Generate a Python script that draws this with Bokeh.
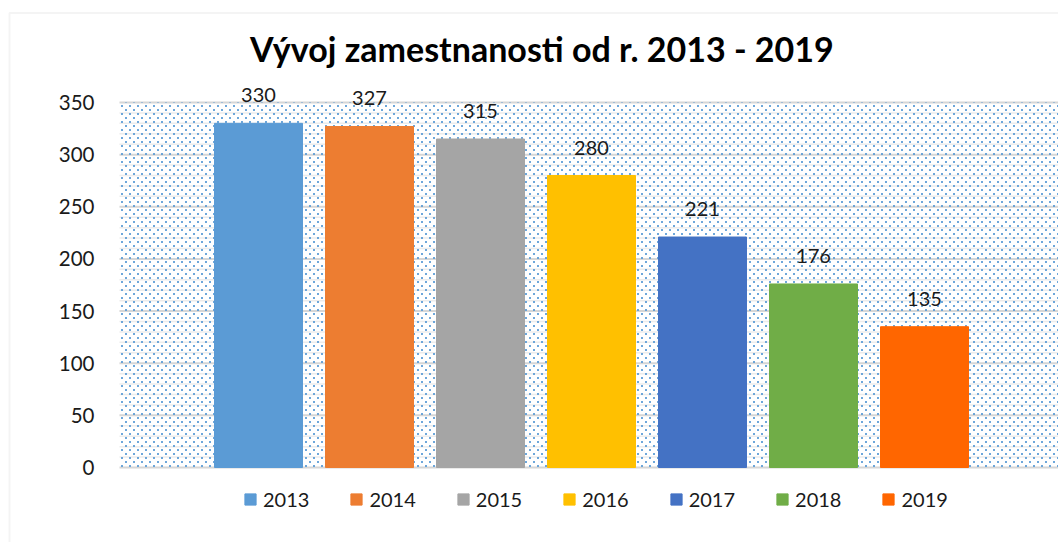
import base64, struct, zlib
from bokeh.plotting import figure
from bokeh.models import (ColumnDataSource, Range1d, FixedTicker, LabelSet, Label,
                          BoxAnnotation, ImageURLTexture)
from bokeh.core.properties import value
from bokeh.embed import file_html
from bokeh.resources import INLINE

years = ["2013", "2014", "2015", "2016", "2017", "2018", "2019"]
values = [330, 327, 315, 280, 221, 176, 135]
colors = ["#5B9BD5", "#ED7D31", "#A5A5A5", "#FFC000", "#4472C4", "#70AD47", "#FF6600"]
y_ticks = [0, 50, 100, 150, 200, 250, 300, 350]
y_minor_ticks = [10, 20, 30, 40, 60, 70, 80, 90, 110, 120, 130, 140, 160, 170, 180, 190,
                 210, 220, 230, 240, 260, 270, 280, 290, 310, 320, 330, 340]
title_text = "Vývoj zamestnanosti od r. 2013  - 2019"

FONT = "Lato"

# ---- dotted pattern tile (8x8 px, staggered dots) as PNG data URL ----
def png_tile():
    w = h = 8
    px = [[(0, 0, 0, 0)] * w for _ in range(h)]
    dot = (91, 155, 213, 225)
    for (cx, cy) in [(1, 1), (5, 5)]:
        for ddx in (0, 1):
            for ddy in (0, 1):
                px[cy + ddy][cx + ddx] = dot
    raw = b"".join(b"\x00" + b"".join(struct.pack("4B", *c) for c in row) for row in px)
    def chunk(t, d):
        c = struct.pack(">I", len(d)) + t + d
        return c + struct.pack(">I", zlib.crc32(t + d) & 0xffffffff)
    data = (b"\x89PNG\r\n\x1a\n" + chunk(b"IHDR", struct.pack(">IIBBBBB", w, h, 8, 6, 0, 0, 0))
            + chunk(b"IDAT", zlib.compress(raw)) + chunk(b"IEND", b""))
    return "data:image/png;base64," + base64.b64encode(data).decode()

# page geometry: frame covers whole canvas; plot area is 119..1058 x 102..467
W, H = 1058, 542
PX_X = 111.0           # px per category
X0 = 258.0             # page x of first bar centre
PLOT_L, PLOT_T, PLOT_B = 119.0, 102.0, 467.0
PX_Y = (PLOT_B - PLOT_T) / 350.0

def dx(px): return (px - X0) / PX_X
def dy(py): return (PLOT_B - py) / PX_Y

src = ColumnDataSource(dict(x=list(range(len(years))), top=values, color=colors,
                            year=years, lbl=[str(v) for v in values]))

p = figure(width=W, height=H, output_backend="svg", toolbar_location=None,
           x_range=Range1d(dx(0), dx(W)), y_range=Range1d(dy(H), dy(0)),
           min_border=0, x_axis_location=None)
p.outline_line_color = None
p.background_fill_color = "white"
p.border_fill_color = "white"
p.xgrid.visible = False
p.ygrid.visible = False

# dotted plot-area background
bg = BoxAnnotation(left=dx(PLOT_L), bottom=0, top=350, fill_alpha=0, line_alpha=0,
                   hatch_pattern="tile", hatch_extra={"tile": ImageURLTexture(url=png_tile())},
                   level="underlay")
p.add_layout(bg)

# faint minor and major horizontal gridlines across plot area
p.segment(x0=dx(PLOT_L), x1=dx(W + 10), y0=y_minor_ticks, y1=y_minor_ticks,
          line_color="#ECECEC", line_width=1.5, level="underlay")
p.segment(x0=dx(PLOT_L), x1=dx(W + 10), y0=y_ticks, y1=y_ticks,
          line_color="#D6D6D6", line_width=2, level="underlay")

p.vbar(x="x", top="top", width=88 / PX_X, color="color", source=src, legend_field="year")

p.add_layout(LabelSet(x="x", y="top", text="lbl", source=src, text_align="center",
                      text_baseline="alphabetic", y_offset=21, text_font=value(FONT),
                      text_font_size=value("20px"), text_color="#1a1a1a"))

p.add_layout(Label(x=dx(545.5), y=dy(48), text=title_text, text_align="center",
                   text_baseline="alphabetic", text_font=FONT, text_font_style="bold",
                   text_font_size="34px", text_color="black"))

# outer chart border (left & top)
p.add_layout(BoxAnnotation(left=dx(9), right=dx(W + 50), top=dy(12.5), bottom=dy(H + 50),
                           fill_alpha=0, line_color="#D9D9D9", line_width=2, level="overlay"))

ax = p.yaxis[0]
ax.fixed_location = dx(PLOT_L)
ax.ticker = FixedTicker(ticks=y_ticks)
ax.axis_line_color = None
ax.major_tick_line_color = None
ax.minor_tick_line_color = None
ax.major_label_standoff = 19
ax.major_label_text_font = FONT
ax.major_label_text_font_size = "20.5px"
ax.major_label_text_color = "#1a1a1a"

lg = p.legend[0]
lg.orientation = "horizontal"
lg.location = (243, H - 511)
lg.glyph_width = 14
lg.glyph_height = 14
lg.label_standoff = 6
lg.spacing = 40
lg.padding = 0
lg.margin = 0
lg.border_line_color = None
lg.background_fill_alpha = 0
lg.label_text_font = FONT
lg.label_text_font_size = "20px"
lg.label_text_color = "#1a1a1a"
lg.label_height = 20

open("out.html", "w").write(file_html(p, INLINE))
